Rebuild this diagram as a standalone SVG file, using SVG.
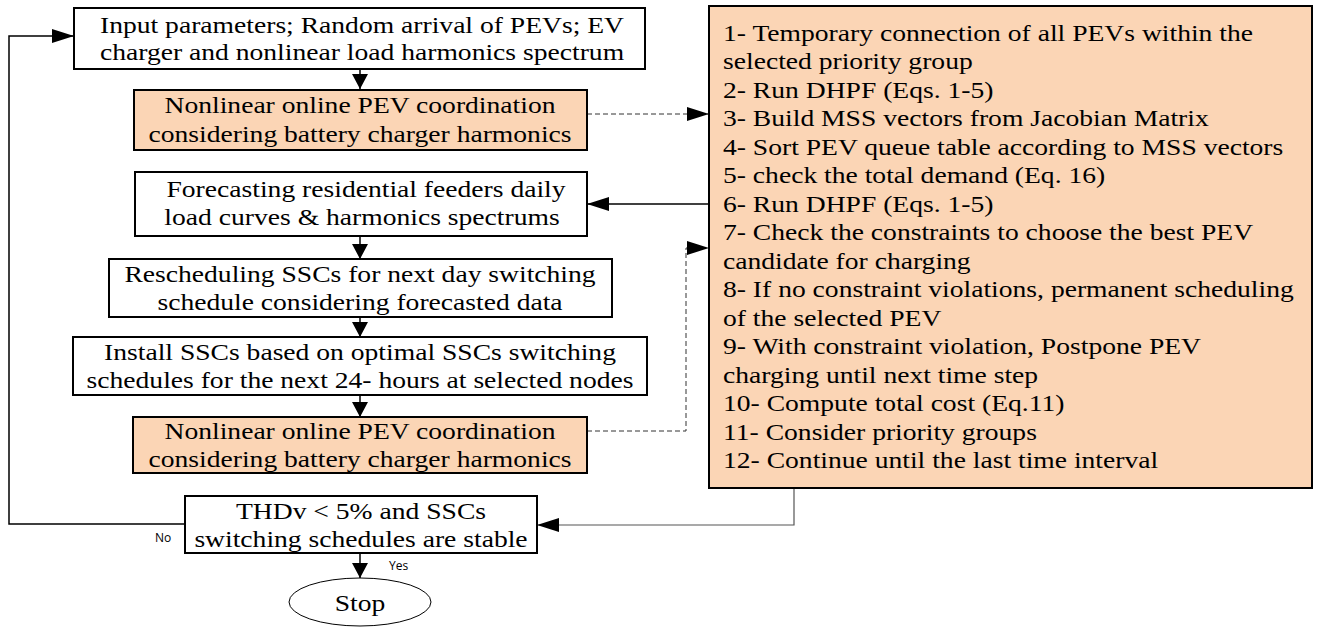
<svg xmlns="http://www.w3.org/2000/svg" width="1321" height="627" viewBox="0 0 1321 627">
<style>
.box{fill:#fff;stroke:#000;stroke-width:2}
.org{fill:#FBD5B5;stroke:#000;stroke-width:2}
.t{font-family:"Liberation Serif","Times New Roman",serif;font-size:23px;fill:#000}
.c{text-anchor:middle}
.lbl{font-family:"Open Sans","Liberation Sans",sans-serif;font-size:12px;fill:#000}
.ln{fill:none;stroke:#000;stroke-width:1.5}
.dash{fill:none;stroke:#333;stroke-width:1;stroke-dasharray:5 3}
.gl{fill:none;stroke:#555;stroke-width:1.2}
</style>
<defs>
<marker id="ah" markerUnits="userSpaceOnUse" markerWidth="22" markerHeight="14" viewBox="0 0 22 14" refX="22" refY="7" orient="auto"><path d="M0,0 L22,7 L0,14 z" fill="#000"/></marker>
<marker id="av" markerUnits="userSpaceOnUse" markerWidth="15" markerHeight="16" viewBox="0 0 15 16" refX="15" refY="8" orient="auto"><path d="M0,0 L15,8 L0,16 z" fill="#000"/></marker>
</defs>

<g id="connectors">
<line class="ln" x1="360" y1="69" x2="360" y2="89" marker-end="url(#av)"/>
<line class="ln" x1="360" y1="236" x2="360" y2="259" marker-end="url(#av)"/>
<line class="ln" x1="360" y1="317" x2="360" y2="337" marker-end="url(#av)"/>
<line class="ln" x1="360" y1="395" x2="360" y2="417" marker-end="url(#av)"/>
<line class="ln" x1="360" y1="553" x2="360" y2="578" marker-end="url(#av)"/>
<path class="dash" d="M587,114 H709" marker-end="url(#ah)"/>
<path class="dash" d="M587,431 H686 V248 H709" marker-end="url(#ah)"/>
<line class="ln" x1="709" y1="204" x2="587" y2="204" marker-end="url(#ah)"/>
<path class="gl" d="M794,488 V525 H537" marker-end="url(#ah)"/>
<path class="ln" d="M185,524 H9 V36 H74" marker-end="url(#ah)"/>
<text class="lbl" x="155" y="542">No</text>
<text class="lbl" x="389" y="570">Yes</text>
</g>

<g id="n1">
<rect class="box" x="74" y="8" width="571" height="61"/>
<g transform="translate(362 0) scale(1.2 1)"><text class="t c" x="0" y="33">Input parameters; Random arrival of PEVs; EV</text><text class="t c" x="0" y="60">charger and nonlinear load harmonics spectrum</text></g>
</g>

<g id="n2">
<rect class="org" x="134" y="90" width="453" height="60"/>
<g transform="translate(360 0) scale(1.2 1)"><text class="t c" x="0" y="113">Nonlinear online PEV coordination</text><text class="t c" x="0" y="142">considering battery charger harmonics</text></g>
</g>

<g id="n3">
<rect class="box" x="135" y="172" width="452" height="64"/>
<g transform="translate(366 0) scale(1.2 1)"><text class="t c" x="0" y="197">Forecasting residential feeders daily</text></g>
<g transform="translate(362 0) scale(1.2 1)"><text class="t c" x="0" y="225">load curves &amp; harmonics spectrums</text></g>
</g>

<g id="n4">
<rect class="box" x="109" y="259" width="503" height="58"/>
<g transform="translate(360 0) scale(1.2 1)"><text class="t c" x="0" y="282">Rescheduling SSCs for next day switching</text><text class="t c" x="0" y="310">schedule considering forecasted data</text></g>
</g>

<g id="n5">
<rect class="box" x="73" y="337" width="574" height="58"/>
<g transform="translate(360 0) scale(1.2 1)"><text class="t c" x="0" y="360">Install SSCs based on optimal SSCs switching</text><text class="t c" x="0" y="388">schedules for the next 24- hours at selected nodes</text></g>
</g>

<g id="n6">
<rect class="org" x="133" y="417" width="454" height="56"/>
<g transform="translate(360 0) scale(1.2 1)"><text class="t c" x="0" y="439">Nonlinear online PEV coordination</text><text class="t c" x="0" y="467">considering battery charger harmonics</text></g>
</g>

<g id="n7">
<rect class="box" x="185" y="496" width="352" height="57"/>
<g transform="translate(361 0) scale(1.2 1)"><text class="t c" x="0" y="519">THDv &lt; 5% and SSCs</text><text class="t c" x="0" y="547">switching schedules are stable</text></g>
</g>

<g id="stop">
<ellipse cx="360" cy="602" rx="71" ry="24" fill="#fff" stroke="#000" stroke-width="1"/>
<g transform="translate(360 0) scale(1.2 1)"><text class="t c" x="0" y="611">Stop</text></g>
</g>

<g id="steps">
<rect class="org" x="709" y="6" width="603" height="482"/>
<g transform="translate(723 0) scale(1.2 1)">
<text class="t" x="0" y="41">1- Temporary connection of all PEVs within the</text>
<text class="t" x="0" y="69.5">selected priority group</text>
<text class="t" x="0" y="98">2- Run DHPF (Eqs. 1-5)</text>
<text class="t" x="0" y="126.5">3- Build MSS vectors from Jacobian Matrix</text>
<text class="t" x="0" y="155">4- Sort PEV queue table according to MSS vectors</text>
<text class="t" x="0" y="183.5">5- check the total demand (Eq. 16)</text>
<text class="t" x="0" y="212">6- Run DHPF (Eqs. 1-5)</text>
<text class="t" x="0" y="240.5">7- Check the constraints to choose the best PEV</text>
<text class="t" x="0" y="269">candidate for charging</text>
<text class="t" x="0" y="297.5">8- If no constraint violations, permanent scheduling</text>
<text class="t" x="0" y="326">of the selected PEV</text>
<text class="t" x="0" y="354.5">9- With constraint violation, Postpone PEV</text>
<text class="t" x="0" y="383">charging until next time step</text>
<text class="t" x="0" y="411.5">10- Compute total cost (Eq.11)</text>
<text class="t" x="0" y="440">11- Consider priority groups</text>
<text class="t" x="0" y="468.5">12- Continue until the last time interval</text>
</g>
</g>
</svg>
